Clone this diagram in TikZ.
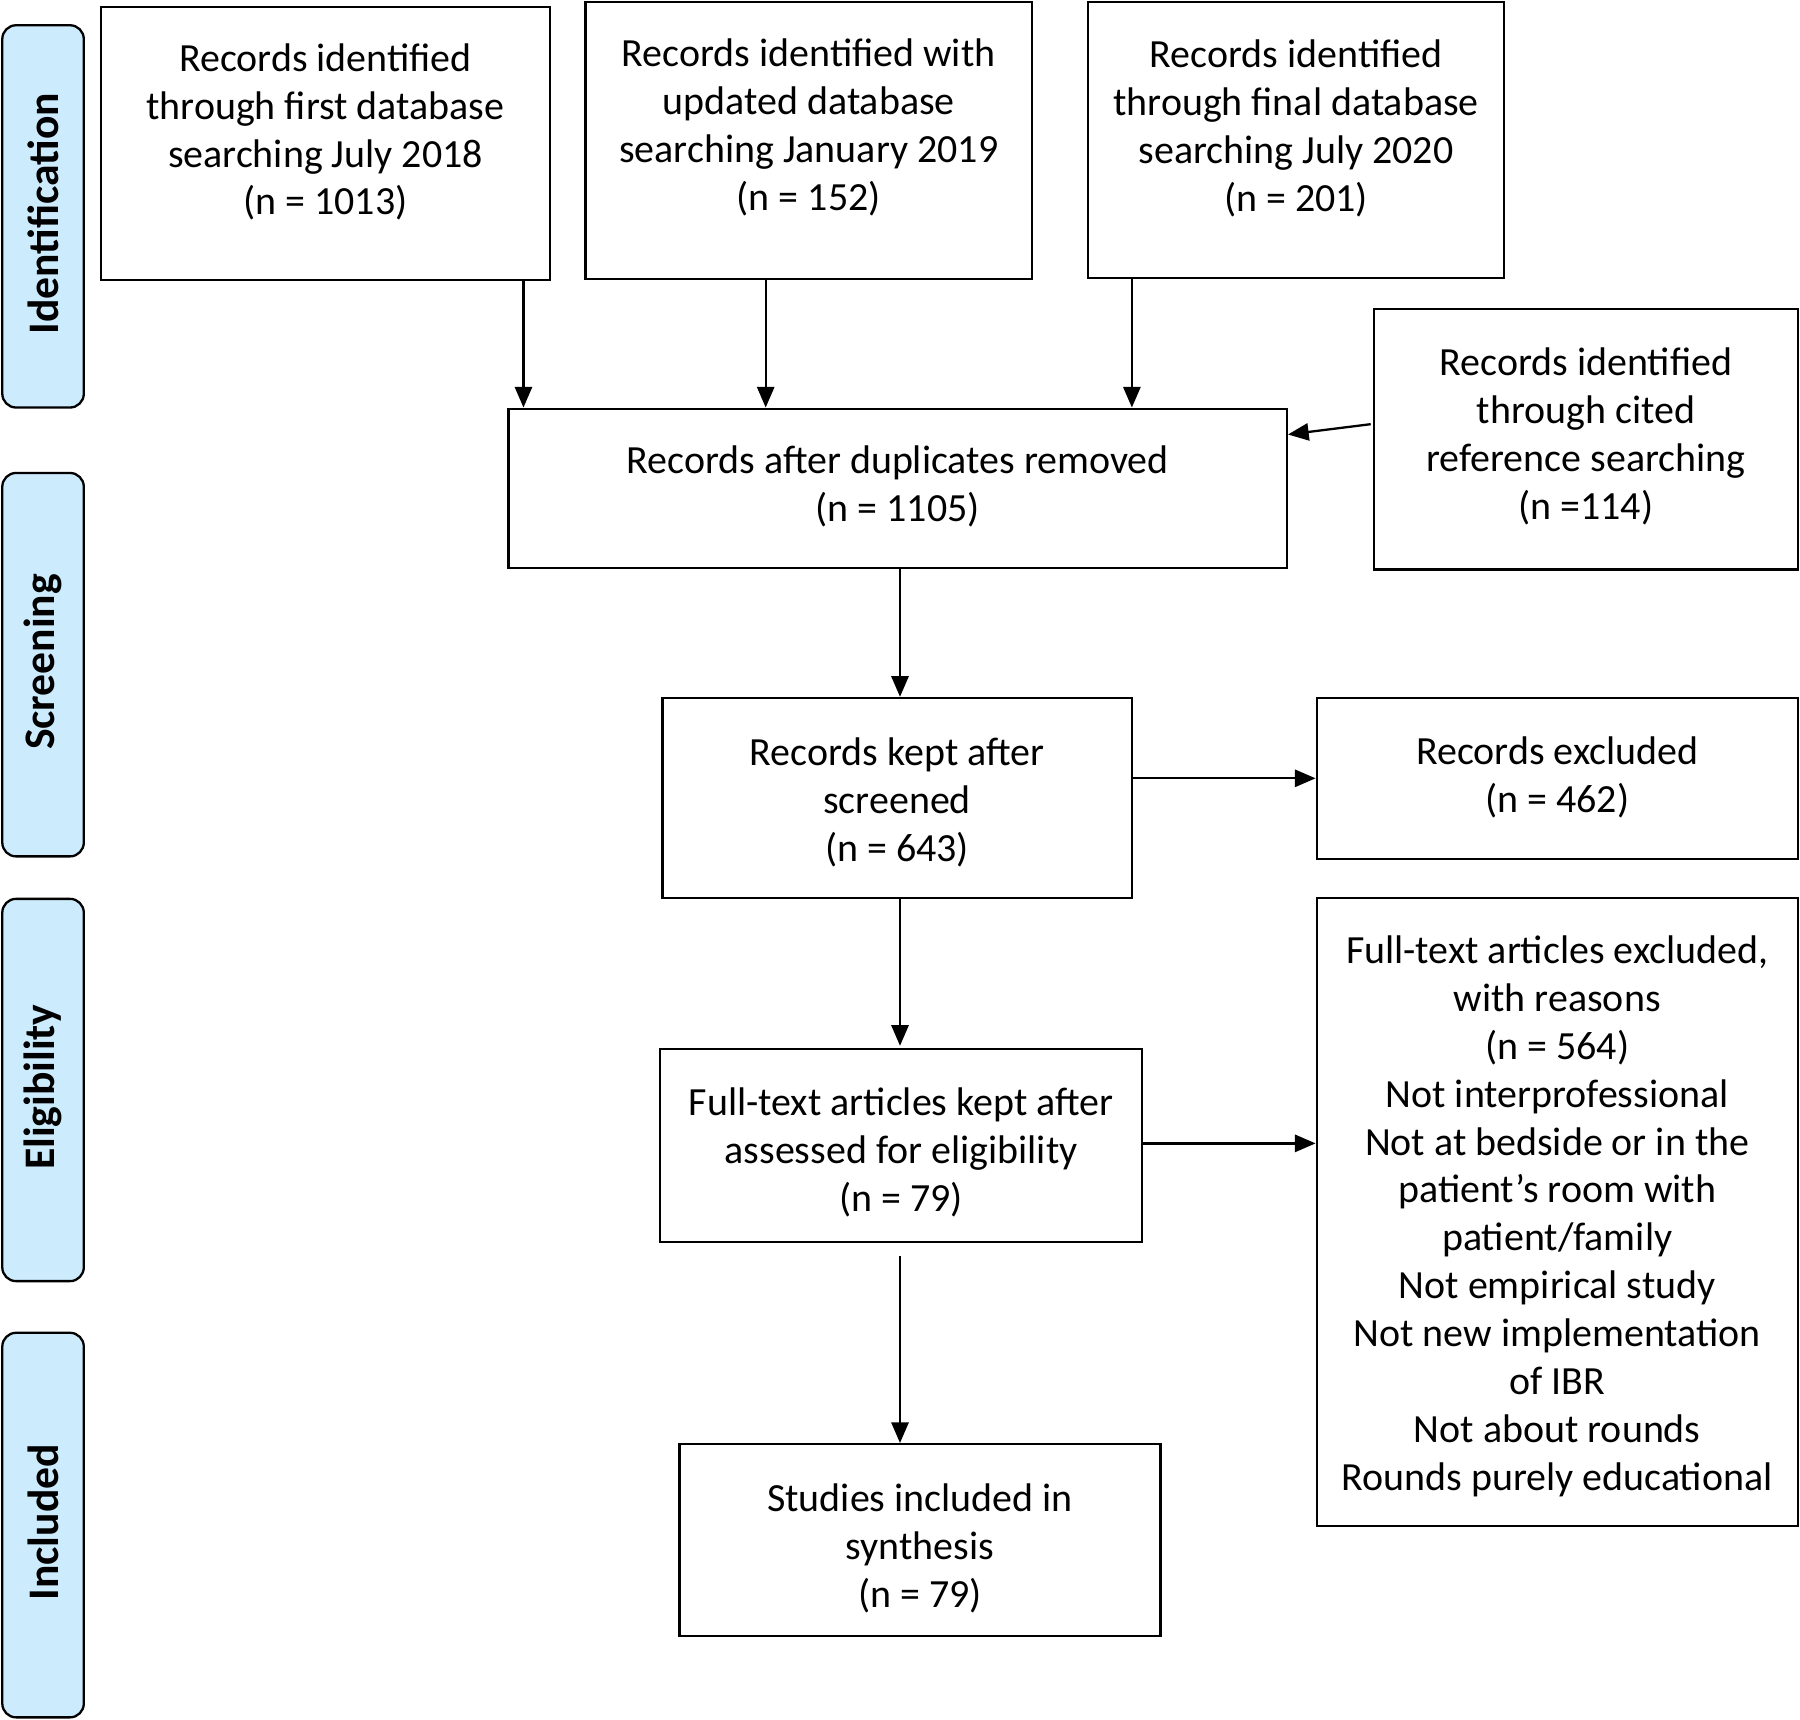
\documentclass[tikz,border=0pt]{standalone}
\usepackage{fontspec}
\setmainfont{Carlito}
\usetikzlibrary{arrows.meta,calc}
\definecolor{sidefill}{HTML}{CCEBFC}
\begin{document}
\begin{tikzpicture}[x=0.5pt,y=-0.5pt,
  box/.style={draw=black,line width=1pt,fill=white,inner sep=0pt},
  txt/.style={align=center,inner sep=0pt,font=\fontsize{17.4}{20.85}\selectfont,yshift=-2pt},
  side/.style={draw=black,line width=1pt,fill=sidefill,rounded corners=6pt,minimum width=35.5pt,inner sep=0pt},
  sidetxt/.style={rotate=90,font=\fontsize{19}{20}\selectfont\bfseries,xshift=1.2pt},
  arr/.style={line width=1pt,-{Triangle[length=9pt,width=7.5pt]}}]
\useasboundingbox (0,0) rectangle (1568,1498);
% side labels
\node[side,minimum height=166.5pt] (sid) at (37.5,188.5) {};
\node[sidetxt] at (sid.center) {Identification};
\node[side,minimum height=167pt] (ssc) at (37.5,579) {};
\node[sidetxt] at (ssc.center) {Screening};
\node[side,minimum height=166.5pt] (sel) at (37.5,949.5) {};
\node[sidetxt] at (sel.center) {Eligibility};
\node[side,minimum height=167.5pt] (sin) at (37.5,1328.5) {};
\node[sidetxt] at (sin.center) {Included};
% boxes
\node[box,minimum width=195.5pt,minimum height=119pt] (b1) at (283.5,125) {};
\node[txt] at (283.5,111) {Records identified\\through first database\\searching July 2018\\(n = 1013)};
\node[box,minimum width=194.5pt,minimum height=120.5pt] (b2) at (704.5,122.5) {};
\node[txt] at (704.5,107) {Records identified with\\updated database\\searching January 2019\\(n = 152)};
\node[box,minimum width=181pt,minimum height=120pt] (b3) at (1129,122) {};
\node[txt] at (1129,108) {Records identified\\through final database\\searching July 2020\\(n = 201)};
\node[box,minimum width=184.5pt,minimum height=113.5pt] (cit) at (1381.5,382.5) {};
\node[txt] at (1381.5,376) {Records identified\\through cited\\reference searching\\(n =114)};
\node[box,minimum width=339pt,minimum height=69.5pt] (dup) at (782,425.5) {};
\node[txt,yshift=3pt] at (dup.center) {Records after duplicates removed\\(n = 1105)};
\node[box,minimum width=204.5pt,minimum height=87pt] (scr) at (781.5,695) {};
\node[txt] at (scr.center) {Records kept after\\screened\\(n = 643)};
\node[box,minimum width=209.5pt,minimum height=70pt] (exc) at (1356.5,678) {};
\node[txt,yshift=2.5pt] at (exc.center) {Records excluded\\(n = 462)};
\node[box,minimum width=210pt,minimum height=84pt] (ft) at (785,998) {};
\node[txt,yshift=-1pt] at (ft.center) {Full-text articles kept after\\assessed for eligibility\\(n = 79)};
\node[box,minimum width=209.5pt,minimum height=273.5pt] (rea) at (1356.5,1055.5) {};
\node[txt] at (rea.center) {Full-text articles excluded,\\with reasons\\(n = 564)\\Not interprofessional\\Not at bedside or in the\\patient’s room with\\patient/family\\Not empirical study\\Not new implementation\\of IBR\\Not about rounds\\Rounds purely educational};
\node[box,minimum width=209.5pt,minimum height=83.5pt] (stu) at (801.5,1341.5) {};
\node[txt,yshift=-1.5pt] at (stu.center) {Studies included in\\synthesis\\(n = 79)};
% connectors
\coordinate (x1) at (456,0);
\coordinate (x2) at (667,0);
\coordinate (x3) at (986,0);
\draw[arr] (x1 |- b1.south) -- (x1 |- dup.north);
\draw[arr] (x2 |- b2.south) -- (x2 |- dup.north);
\draw[arr] (x3 |- b3.south) -- (x3 |- dup.north);
\draw[arr] ($(cit.west)+(-2,-13)$) -- ($(dup.east)+(0,-47)$);
\coordinate (xm) at (784,0);
\draw[arr] (xm |- dup.south) -- (xm |- scr.north);
\draw[arr] (scr.east |- exc.west) -- (exc.west);
\draw[arr] (xm |- scr.south) -- ($(xm |- ft.north)+(0,-2)$);
\draw[arr] ($(ft.east)+(0,-2)$) -- ($(ft.east -| rea.west)+(0,-2)$);
\draw[arr] ($(xm |- ft.south)+(0,11)$) -- (xm |- stu.north);
\end{tikzpicture}
\end{document}
